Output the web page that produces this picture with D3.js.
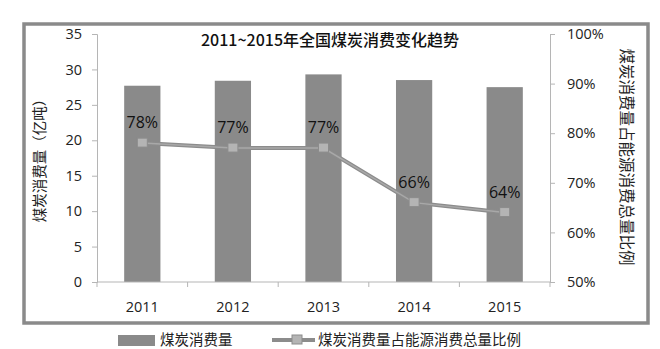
<!DOCTYPE html>
<html><head><meta charset="utf-8">
<script src="https://cdn.jsdelivr.net/npm/d3@7"></script>
<style>body{margin:0;background:#fff}svg{display:block}text{font-family:"Open Sans","Noto Sans CJK SC",sans-serif}</style>
</head><body>
<svg id="c" width="660" height="349"></svg>
<script>
const years = ["2011","2012","2013","2014","2015"];
const coal = [27.7, 28.4, 29.3, 28.5, 27.5];
const share = [78, 77, 77, 66, 64];
const shareLabels = ["78%","77%","77%","66%","64%"];
const leftTicks = [0,5,10,15,20,25,30,35];
const rightTicks = [50,60,70,80,90,100];
const title = "2011~2015年全国煤炭消费变化趋势";
const leftTitle = "煤炭消费量（亿吨）";
const rightTitle = "煤炭消费量占能源消费总量比例";
const legendNames = ["煤炭消费量","煤炭消费量占能源消费总量比例"];

const svg = d3.select("#c");
const cjk = '"Noto Sans CJK SC",sans-serif';
const L = 97, R = 550, T = 34, B = 282;
const x = d3.scaleBand().domain(years).range([L, R]).paddingInner(0.6).paddingOuter(0.3);
const y = d3.scaleLinear().domain([0, 35]).range([B, T]);
const y2 = d3.scaleLinear().domain([50, 100]).range([B, T]);

// frame
svg.append("rect").attr("x",24).attr("y",24).attr("width",624).attr("height",299)
  .attr("fill","#fff").attr("stroke","#8a8a8a").attr("stroke-width",3.5);

// bars
svg.selectAll("rect.bar").data(coal).join("rect").attr("class","bar")
  .attr("x",(d,i)=>x(years[i])).attr("width",x.bandwidth())
  .attr("y",d=>y(d)).attr("height",d=>B-y(d)).attr("fill","#8a8a8a");

// axes
const axisStyle = g => {
  g.select(".domain").attr("stroke","#b5b5b5");
  g.selectAll(".tick line").attr("stroke","#b5b5b5");
  g.selectAll("text").attr("fill","#222").style("font-size","14.5px");
};
svg.append("g").attr("transform",`translate(${L},0)`)
  .call(d3.axisLeft(y).tickValues(leftTicks).tickSize(5).tickSizeOuter(5).tickPadding(10))
  .call(axisStyle);
svg.append("g").attr("transform",`translate(${R},0)`)
  .call(d3.axisRight(y2).tickValues(rightTicks).tickSize(5).tickSizeOuter(5).tickPadding(12).tickFormat(d=>d+"%"))
  .call(axisStyle);
// x axis with ticks at band boundaries
const xg = svg.append("g").attr("transform",`translate(0,${B})`);
xg.append("line").attr("x1",L).attr("x2",R).attr("stroke","#b5b5b5");
const bounds = years.map((d,i)=>L + i*(R-L)/years.length).concat([R]);
xg.selectAll("line.t").data(bounds).join("line").attr("class","t")
  .attr("x1",d=>d).attr("x2",d=>d).attr("y1",0).attr("y2",5).attr("stroke","#b5b5b5");
xg.selectAll("text").data(years).join("text")
  .attr("x",d=>x(d)+x.bandwidth()/2).attr("y",30).attr("text-anchor","middle")
  .attr("fill","#222").style("font-size","14.5px").text(d=>d);

// line
const cx = (d,i)=>x(years[i])+x.bandwidth()/2;
const line = d3.line().x(cx).y(d=>y2(d));
svg.append("path").datum(share).attr("d",line).attr("fill","none").attr("stroke","#8c8c8c").attr("stroke-width",4);
svg.append("path").datum(share).attr("d",line).attr("fill","none").attr("stroke","#a8a8a8").attr("stroke-width",1.5);
svg.selectAll("rect.mk").data(share).join("rect").attr("class","mk")
  .attr("x",(d,i)=>cx(d,i)-5).attr("y",d=>y2(d)-5).attr("width",10).attr("height",9)
  .attr("fill","#b4b4b4").attr("stroke","#8c8c8c").attr("stroke-width",1);
svg.selectAll("text.lbl").data(share).join("text").attr("class","lbl")
  .attr("x",cx).attr("y",d=>y2(d)-15).attr("text-anchor","middle")
  .attr("fill","#111").style("font-size","16px").text((d,i)=>shareLabels[i]);

// titles
svg.append("text").attr("x",330).attr("y",46).attr("text-anchor","middle")
  .style("font-family",cjk).style("font-size","16px").style("font-weight","500").attr("fill","#111").text(title);
svg.append("text").attr("transform","translate(45,157) rotate(-90)").attr("text-anchor","middle")
  .style("font-family",cjk).style("font-size","14.5px").attr("fill","#222").text(leftTitle);
svg.append("text").attr("transform","translate(621,157) rotate(90)").attr("text-anchor","middle")
  .style("font-family",cjk).style("font-size","15.5px").attr("fill","#222").text(rightTitle);

// legend
svg.append("rect").attr("x",118).attr("y",335).attr("width",37).attr("height",11).attr("fill","#8a8a8a");
svg.append("text").attr("x",160).attr("y",345).style("font-family",cjk).style("font-size","14.5px").attr("fill","#222").text(legendNames[0]);
svg.append("line").attr("x1",272).attr("x2",315).attr("y1",340).attr("y2",340).attr("stroke","#8c8c8c").attr("stroke-width",4);
svg.append("rect").attr("x",292).attr("y",335).attr("width",10).attr("height",9).attr("fill","#b4b4b4").attr("stroke","#8c8c8c");
svg.append("text").attr("x",318).attr("y",345).style("font-family",cjk).style("font-size","14.5px").attr("fill","#222").text(legendNames[1]);
</script>
</body></html>
